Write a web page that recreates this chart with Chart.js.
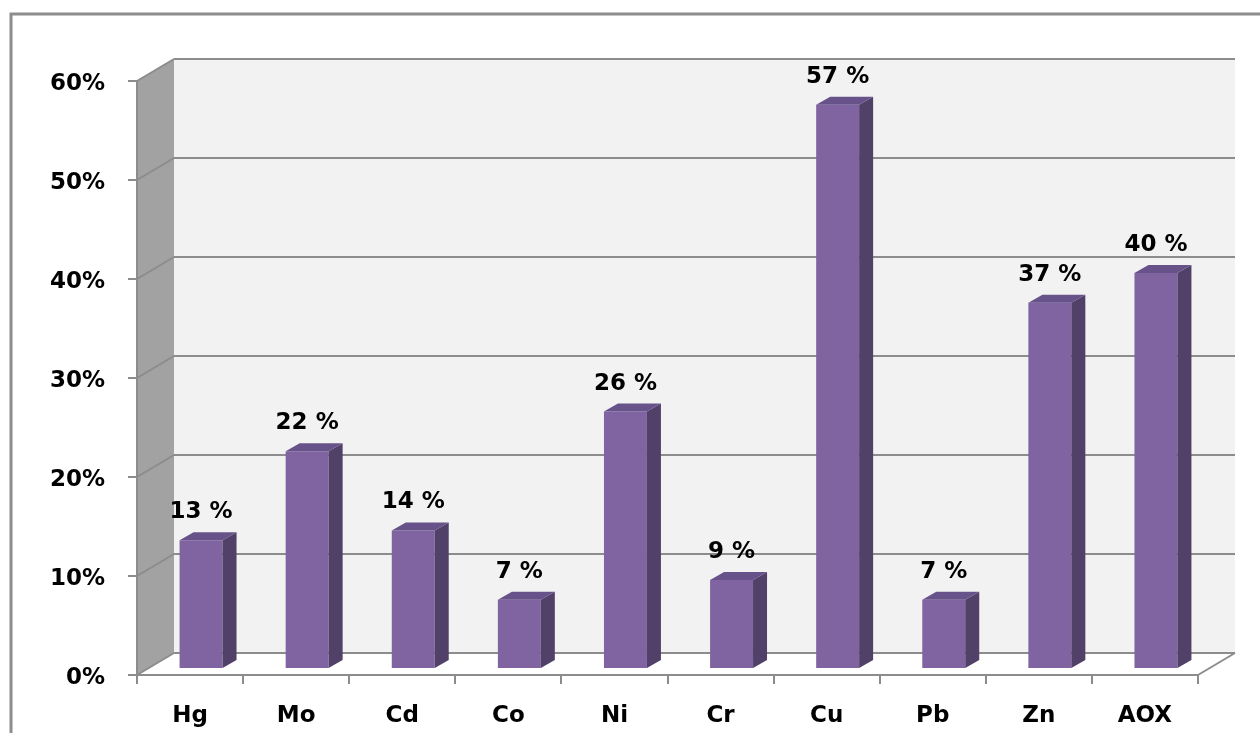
<!DOCTYPE html>
<html>
<head>
<meta charset="utf-8">
<script src="https://cdn.jsdelivr.net/npm/chart.js@4.4.1/dist/chart.umd.min.js"></script>
<style>
  html, body { margin: 0; padding: 0; background: #fff; overflow: hidden; }
  #wrap { position: relative; width: 1260px; height: 733px; }
</style>
</head>
<body>
<div id="wrap"><canvas id="metalsChart" width="1260" height="733"></canvas></div>
<script>
const categories = ['Hg', 'Mo', 'Cd', 'Co', 'Ni', 'Cr', 'Cu', 'Pb', 'Zn', 'AOX'];
const shares = [13, 22, 14, 7, 26, 9, 57, 7, 37, 40];
const yTicks = [0, 10, 20, 30, 40, 50, 60];

// depth of the box: front axis plane -> back wall
const DEPTH_X = 37;
const DEPTH_Y = -22;
// where the bar fronts sit on the floor, and how thick the bars are
const BAR_SHIFT_X = 11;
const BAR_SHIFT_Y = -6;
const BAR_DX = 14;
const BAR_DY = -8;

const GRID = '#8c8c8c';
const FONT = { family: 'DejaVu Sans', weight: 'bold', size: 23 };

function poly(ctx, pts, fill, stroke) {
  ctx.beginPath();
  ctx.moveTo(pts[0][0], pts[0][1]);
  for (let i = 1; i < pts.length; i++) ctx.lineTo(pts[i][0], pts[i][1]);
  ctx.closePath();
  if (fill) { ctx.fillStyle = fill; ctx.fill(); }
  if (stroke) { ctx.strokeStyle = stroke; ctx.stroke(); }
}

function line(ctx, x1, y1, x2, y2) {
  ctx.beginPath();
  ctx.moveTo(x1, y1);
  ctx.lineTo(x2, y2);
  ctx.stroke();
}

const box3d = {
  id: 'box3d',
  beforeDraw(chart) {
    const { ctx, chartArea: a, scales: { y } } = chart;
    const top = y.getPixelForValue(yTicks[yTicks.length - 1]);
    const bottom = y.getPixelForValue(0);

    ctx.save();
    // outer frame
    ctx.strokeStyle = '#8d8d8d';
    ctx.lineWidth = 3;
    ctx.beginPath();
    ctx.moveTo(11, chart.height);
    ctx.lineTo(11, 14);
    ctx.lineTo(chart.width, 14);
    ctx.stroke();

    // back wall
    ctx.fillStyle = '#f2f2f2';
    ctx.fillRect(a.left + DEPTH_X, top + DEPTH_Y, a.right - a.left, bottom - top);
    // side wall
    poly(ctx, [[a.left, top], [a.left + DEPTH_X, top + DEPTH_Y],
               [a.left + DEPTH_X, bottom + DEPTH_Y], [a.left, bottom]], '#a2a2a2');
    // floor
    poly(ctx, [[a.left, bottom], [a.left + DEPTH_X, bottom + DEPTH_Y],
               [a.right + DEPTH_X, bottom + DEPTH_Y], [a.right, bottom]], '#ffffff');

    ctx.strokeStyle = GRID;
    ctx.lineWidth = 2;
    yTicks.forEach(v => {
      const py = y.getPixelForValue(v);
      line(ctx, a.left, py, a.left + DEPTH_X, py + DEPTH_Y);
      line(ctx, a.left + DEPTH_X, py + DEPTH_Y, a.right + DEPTH_X, py + DEPTH_Y);
    });
    line(ctx, a.right, bottom, a.right + DEPTH_X, bottom + DEPTH_Y);
    ctx.restore();
  },
  beforeDatasetsDraw(chart) {
    chart.ctx.save();
    chart.ctx.translate(BAR_SHIFT_X, BAR_SHIFT_Y);
  },
  afterDatasetsDraw(chart) {
    const ctx = chart.ctx;
    const meta = chart.getDatasetMeta(0);
    meta.data.forEach((bar, i) => {
      const { x, y, base, width } = bar.getProps(['x', 'y', 'base', 'width'], true);
      const l = x - width / 2;
      const r = x + width / 2;
      poly(ctx, [[r, y], [r + BAR_DX, y + BAR_DY], [r + BAR_DX, base + BAR_DY], [r, base]], '#514067');
      poly(ctx, [[l, y], [l + BAR_DX, y + BAR_DY], [r + BAR_DX, y + BAR_DY], [r, y]], '#67528a');

      ctx.fillStyle = '#000';
      ctx.font = `${FONT.weight} ${FONT.size}px "${FONT.family}"`;
      ctx.textAlign = 'center';
      ctx.textBaseline = 'alphabetic';
      ctx.fillText(`${shares[i]} %`, x, y - 22);
    });
    ctx.restore();
  }
};

new Chart(document.getElementById('metalsChart'), {
  type: 'bar',
  data: {
    labels: categories,
    datasets: [{
      data: shares,
      backgroundColor: '#8064a2',
      borderWidth: 0,
      barPercentage: 0.405,
      categoryPercentage: 1
    }]
  },
  options: {
    responsive: false,
    animation: false,
    devicePixelRatio: 1,
    layout: { padding: { left: 0, top: 81, right: 62, bottom: 0 } },
    plugins: { legend: { display: false }, tooltip: { enabled: false } },
    scales: {
      x: {
        afterFit(scale) { scale.height = 58; },
        grid: { drawOnChartArea: false, drawTicks: true, tickLength: 9, color: GRID, lineWidth: 2 },
        border: { display: true, color: GRID, width: 2 },
        ticks: { color: '#000', font: FONT, padding: 18 }
      },
      y: {
        min: 0,
        max: 60,
        afterFit(scale) { scale.width = 137; },
        grid: { drawOnChartArea: false, drawTicks: true, tickLength: 9, color: GRID, lineWidth: 2 },
        border: { display: true, color: GRID, width: 2 },
        ticks: { stepSize: 10, color: '#000', font: FONT, padding: 23, labelOffset: 3, callback: v => v + '%' }
      }
    }
  },
  plugins: [box3d]
});
</script>
</body>
</html>
